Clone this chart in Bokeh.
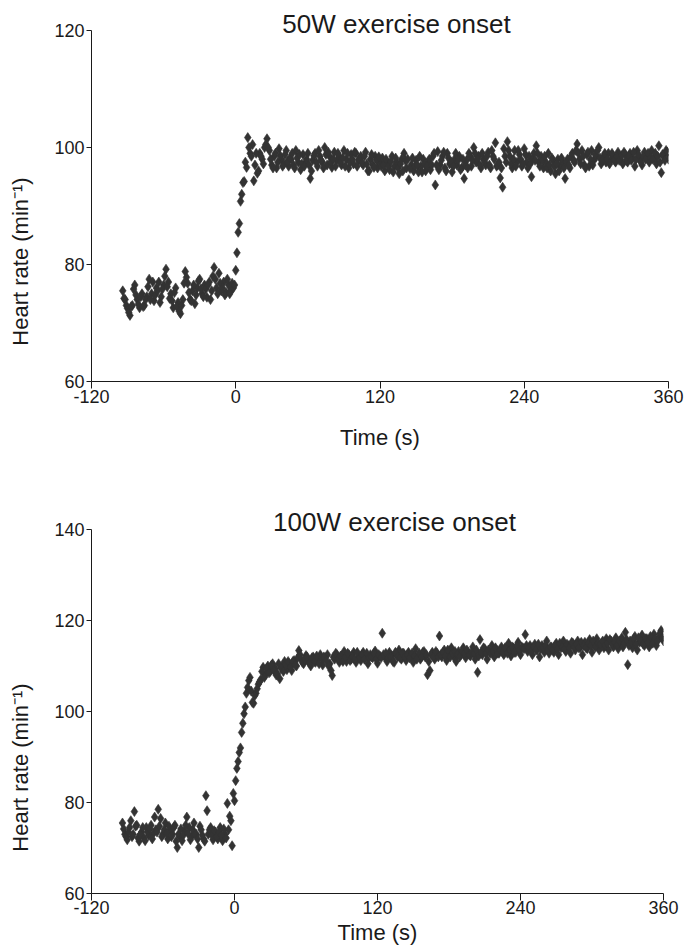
from bokeh.plotting import figure
from bokeh.layouts import column, row
from bokeh.models import Range1d, FixedTicker, Label
from bokeh.embed import file_html
from bokeh.resources import INLINE

FONT = "Liberation Sans"
TXT = "#1a1a1a"
DOT = "#333333"

# sampling grid of the series (seconds): even seconds and odd seconds
T_EVEN_START = -94
T_ODD_START = -93
T_STEP = 2

# ---- 50 W exercise onset: heart rate (min^-1) ----
hr_50w_even = [
    75.5, 74.0, 72.5, 71.3, 73.0, 76.5, 74.0, 72.6, 75.0, 73.0,
    74.5, 77.5, 75.0, 73.8, 76.0, 77.0, 74.5, 76.5, 79.2, 77.0,
    75.0, 72.6, 76.0, 73.5, 71.6, 74.0, 78.8, 76.8, 74.0, 75.5,
    73.3, 76.0, 77.5, 75.0, 76.5, 74.4, 77.0, 75.5, 79.5, 76.0,
    78.5, 75.5, 77.0, 75.2, 76.5, 75.5, 76.0, 79.0, 85.5, 90.8,
    94.0, 97.5, 101.7, 99.0, 100.5, 97.0, 95.6, 99.0, 98.0, 100.0,
    101.5, 99.5, 97.0, 98.5, 96.5, 99.8, 98.0, 97.2, 99.5, 96.8,
    98.0, 97.0, 99.5, 97.5, 96.2, 98.8, 97.5, 99.0, 94.7, 97.8,
    99.0, 96.8, 98.5, 97.5, 100.0, 97.0, 98.5, 96.6, 99.2, 97.8,
    98.5, 97.0, 99.5, 98.0, 96.5, 98.8, 97.2, 99.0, 97.8, 98.5,
    97.0, 99.2, 96.0, 98.0, 97.0, 98.5, 96.5, 97.5, 98.2, 96.0,
    97.5, 96.2, 98.5, 96.8, 97.5, 95.5, 98.0, 99.0, 96.5, 94.5,
    97.0, 96.0, 97.8, 95.8, 96.8, 98.0, 96.0, 97.5, 96.2, 98.5,
    93.6, 99.3, 97.0, 98.5, 96.5, 99.0, 97.2, 95.8, 98.0, 97.0,
    98.5, 96.5, 94.7, 97.8, 99.0, 96.8, 100.0, 97.5, 98.5, 96.5,
    98.0, 97.0, 99.2, 96.5, 98.5, 100.8, 97.0, 94.8, 93.2, 98.5,
    101.0, 98.5, 96.5, 99.5, 97.5, 98.8, 96.8, 99.8, 97.5, 98.5,
    95.0, 99.0, 100.3, 97.5, 98.5, 96.5, 97.5, 99.0, 96.0, 97.8,
    95.5, 98.0, 96.8, 97.5, 94.7, 98.0, 96.5, 99.0, 97.5, 100.6,
    98.0, 99.5, 97.0, 98.8, 96.8, 99.5, 97.8, 98.5, 100.0, 97.2,
    98.5, 97.5, 99.0, 97.8, 98.5, 97.5, 99.2, 98.0, 97.2, 98.8,
    97.5, 99.0, 98.2, 96.8, 99.5, 98.0, 97.0, 99.2, 98.5, 97.5,
    99.5, 98.2, 97.2, 100.3, 95.7, 98.5, 99.5, 98.0,
]
hr_50w_odd = [
    74.2, 73.0, 71.8, 72.8, 75.8, 74.8, 73.2, 74.5, 72.8, 74.0,
    76.2, 74.0, 77.0, 74.8, 75.5, 73.5, 75.8, 78.0, 76.2, 74.2,
    73.8, 75.2, 72.8, 72.0, 73.0, 76.8, 77.8, 75.2, 73.8, 76.5,
    74.8, 77.2, 75.8, 74.5, 75.8, 76.5, 74.0, 78.0, 77.5, 75.0,
    76.8, 76.0, 74.8, 77.5, 75.0, 76.8, 76.5, 82.0, 87.0, 92.0,
    94.2, 96.6, 100.0, 98.5, 94.3, 99.0, 96.0, 98.5, 97.2, 100.5,
    100.0, 98.0, 96.5, 99.0, 97.5, 98.6, 96.8, 98.8, 97.6, 98.2,
    99.0, 96.5, 98.2, 98.8, 97.2, 96.8, 98.0, 97.0, 96.0, 98.6,
    97.5, 99.5, 97.8, 96.5, 98.8, 99.2, 97.5, 98.0, 96.8, 99.0,
    97.5, 98.2, 96.8, 99.0, 97.5, 98.0, 99.2, 96.8, 98.0, 97.4,
    98.5, 97.2, 96.0, 98.8, 96.6, 97.8, 98.4, 96.8, 97.0, 98.0,
    96.8, 97.6, 95.8, 98.2, 96.5, 97.2, 96.0, 97.8, 98.0, 96.4,
    98.2, 96.8, 97.0, 98.5, 95.8, 97.2, 96.8, 98.0, 97.0, 99.0,
    97.0, 96.2, 97.8, 99.2, 96.0, 98.2, 97.5, 96.8, 99.0, 97.8,
    96.2, 98.0, 97.0, 96.5, 98.5, 97.8, 99.0, 98.0, 97.0, 99.0,
    97.5, 98.5, 97.0, 99.5, 98.0, 96.8, 97.5, 96.5, 99.8, 97.5,
    99.5, 97.2, 98.0, 96.8, 99.5, 98.0, 97.2, 98.8, 96.5, 97.2,
    98.0, 97.8, 99.0, 96.8, 97.8, 98.5, 96.5, 97.0, 98.2, 96.8,
    97.2, 96.0, 98.2, 96.5, 97.5, 97.0, 98.5, 97.8, 99.5, 99.0,
    97.2, 98.5, 96.5, 99.2, 98.0, 97.0, 98.8, 99.5, 98.2, 97.8,
    99.0, 98.0, 97.2, 99.0, 97.8, 98.5, 97.8, 98.6, 99.2, 97.8,
    98.5, 97.8, 99.2, 98.0, 98.8, 97.5, 98.5, 98.0, 99.0, 98.2,
    98.0, 99.0, 98.5, 97.5, 98.8, 97.8, 99.2,
]

# ---- 100 W exercise onset: heart rate (min^-1) ----
hr_100w_even = [
    75.5, 73.0, 71.8, 74.5, 72.5, 78.0, 75.0, 71.5, 73.5, 72.2,
    74.5, 72.8, 75.0, 73.2, 74.0, 78.5, 76.5, 73.0, 75.5, 72.0,
    74.0, 73.0, 75.0, 70.1, 72.5, 71.6, 73.8, 76.8, 74.5, 72.5,
    75.5, 73.0, 70.1, 74.0, 72.0, 81.5, 73.0, 74.5, 71.8, 73.5,
    72.0, 74.5, 71.6, 73.0, 79.8, 77.0, 70.5, 80.4, 87.5, 91.0,
    95.4, 99.5, 104.0, 106.8, 104.5, 101.8, 104.0, 106.0, 107.0, 109.7,
    108.0, 110.0, 108.8, 110.5, 109.5, 108.3, 107.2, 110.0, 111.0, 109.2,
    110.5, 109.0, 111.2, 110.0, 113.4, 111.5, 110.5, 112.3, 111.0, 110.0,
    112.0, 110.8, 111.5, 112.5, 110.2, 111.8, 112.5, 110.5, 107.9, 111.5,
    112.5, 110.8, 112.0, 113.2, 111.0, 112.5, 111.5, 113.0, 110.8, 112.0,
    111.2, 113.0, 112.0, 110.5, 112.5, 111.8, 113.3, 110.6, 112.2, 117.2,
    112.0, 111.0, 113.0, 112.2, 110.8, 112.5, 113.5, 111.5, 112.8, 111.2,
    113.0, 112.0, 110.8, 113.8, 112.2, 111.5, 113.0, 112.0, 108.1, 109.0,
    113.0, 111.5, 112.8, 116.6, 112.0, 113.5, 111.2, 112.8, 114.0, 112.0,
    111.0, 113.2, 112.5, 114.0, 111.8, 113.0, 112.2, 114.2, 111.5, 108.6,
    115.8, 112.5, 113.8, 111.5, 113.0, 114.5, 112.0, 113.5, 112.8, 114.2,
    112.5, 113.8, 115.0, 112.2, 114.0, 113.0, 115.2, 112.5, 114.0, 116.9,
    113.2, 114.5, 112.5, 114.8, 113.5, 112.0, 114.5, 113.0, 115.5, 112.8,
    114.2, 113.0, 115.0, 112.5, 114.0, 115.5, 113.2, 114.5, 112.8, 115.0,
    113.5, 115.5, 114.0, 112.5, 115.2, 113.8, 115.8, 113.0, 114.5, 116.0,
    113.5, 115.0, 114.0, 116.0, 113.5, 115.5, 114.2, 116.2, 113.8, 115.0,
    114.2, 117.4, 110.3, 115.5, 114.0, 116.5, 113.5, 115.2, 116.8, 114.5,
    116.0, 114.2, 115.5, 117.0, 114.5, 116.2, 117.8, 115.5,
]
hr_100w_odd = [
    74.2, 72.5, 73.5, 76.0, 73.0, 74.8, 72.2, 73.0, 74.5, 71.6,
    73.5, 74.2, 72.0, 76.8, 73.5, 74.8, 72.5, 74.0, 73.2, 74.8,
    72.5, 74.5, 71.5, 73.0, 74.2, 72.8, 75.0, 73.2, 71.8, 74.0,
    73.0, 72.0, 74.8, 72.8, 71.5, 78.2, 74.0, 72.8, 73.8, 72.5,
    73.5, 72.8, 74.2, 72.2, 74.0, 76.0, 82.0, 84.8, 89.0, 92.0,
    97.4, 101.0, 105.3, 107.5, 102.0, 103.5, 105.0, 106.5, 108.8, 107.5,
    109.5, 108.5, 110.2, 109.0, 108.0, 110.5, 109.5, 108.8, 110.2, 111.0,
    109.8, 111.0, 110.2, 111.8, 112.5, 110.8, 111.5, 112.0, 110.6, 111.8,
    111.0, 112.2, 110.5, 111.8, 112.0, 111.2, 110.0, 109.0, 112.0, 112.8,
    111.5, 112.2, 111.0, 112.0, 112.8, 111.2, 112.0, 111.5, 113.0, 111.8,
    112.5, 111.5, 112.8, 111.8, 112.0, 112.8, 111.5, 112.5, 111.8, 112.5,
    112.8, 111.8, 112.0, 111.0, 113.0, 112.0, 111.8, 112.8, 112.0, 112.5,
    111.8, 112.8, 112.2, 111.5, 112.8, 112.0, 113.2, 112.5, 111.0, 112.5,
    112.0, 113.2, 112.0, 112.5, 113.0, 112.2, 113.5, 112.0, 112.8, 113.2,
    112.5, 112.0, 113.2, 112.8, 113.5, 112.5, 113.0, 112.8, 113.5, 112.2,
    113.0, 114.0, 112.8, 113.5, 112.8, 113.2, 114.0, 112.8, 113.5, 113.0,
    114.0, 112.8, 113.5, 114.2, 113.0, 114.5, 113.5, 114.2, 113.8, 114.5,
    114.0, 113.2, 114.2, 113.5, 114.8, 113.8, 114.0, 114.5, 113.5, 114.2,
    113.5, 114.5, 113.8, 115.0, 114.2, 113.8, 114.8, 114.0, 115.2, 114.2,
    114.8, 114.0, 115.2, 114.5, 114.0, 115.0, 114.5, 115.5, 114.2, 115.0,
    114.8, 115.5, 114.5, 115.0, 115.8, 114.8, 115.2, 114.6, 115.5, 116.2,
    115.0, 115.8, 114.5, 115.2, 116.0, 114.8, 116.2, 115.5, 114.8, 116.0,
    115.2, 116.5, 115.0, 116.0, 115.5, 117.2, 116.2,
]

x_ticks = [-120, 0, 120, 240, 360]
x_range = (-120, 360)
y_ticks_50w = [60, 80, 100, 120]
y_ticks_100w = [60, 80, 100, 120, 140]
titles = ["50W exercise onset", "100W exercise onset"]
x_title = "Time (s)"
y_title = "Heart rate (min\u207b\u00b9)"

STRIP_W = 50      # width of the strip that carries the y-axis title
AXIS_W = 41       # room for the y tick labels


def grid(start, n):
    return [start + T_STEP * i for i in range(n)]


def panel(title, hr_even, hr_odd, y_ticks, fw, axis_px, pad_px, top, bottom,
          tick_standoff, label_standoff, title_x, title_rise):
    # the frame extends pad_px above the top tick so that the title fits in it;
    # the axis line itself is bounded to the tick range
    y0, y1 = y_ticks[0], y_ticks[-1]
    y_end = y1 + pad_px * (y1 - y0) / axis_px
    fh = axis_px + pad_px
    right = 684 - STRIP_W - AXIS_W - fw
    p = figure(frame_width=fw, frame_height=fh,
               x_range=Range1d(*x_range), y_range=Range1d(y0, y_end),
               output_backend="svg", toolbar_location=None,
               min_border_left=AXIS_W, min_border_right=right,
               min_border_top=top, min_border_bottom=bottom)
    p.outline_line_color = None
    p.grid.visible = False

    for xs, ys in ((grid(T_EVEN_START, len(hr_even)), hr_even),
                   (grid(T_ODD_START, len(hr_odd)), hr_odd)):
        p.scatter(xs, ys, marker="diamond", size=10, fill_color=DOT,
                  line_color=DOT, line_width=0.6)

    xa = p.xaxis[0]
    xa.ticker = FixedTicker(ticks=x_ticks)
    xa.major_label_overrides = {-120: "-120"}
    xa.axis_label = x_title
    xa.axis_label_text_font = FONT
    xa.axis_label_text_font_size = "22px"
    xa.axis_label_text_font_style = "normal"
    xa.axis_label_text_color = TXT
    xa.axis_label_standoff = label_standoff
    xa.major_label_standoff = tick_standoff
    xa.major_tick_out = 7

    ya = p.yaxis[0]
    ya.ticker = FixedTicker(ticks=y_ticks)
    ya.bounds = (y0, y1)
    ya.major_label_standoff = 2
    ya.major_tick_out = 5

    for ax in (xa, ya):
        ax.major_label_text_font = FONT
        ax.major_label_text_font_size = "18px"
        ax.major_label_text_color = TXT
        ax.major_tick_in = 0
        ax.minor_tick_in = 0
        ax.minor_tick_out = 0
        ax.axis_line_color = TXT
        ax.major_tick_line_color = TXT

    p.add_layout(Label(x=title_x, y=axis_px + title_rise, x_units="screen",
                       y_units="screen", text=title, text_align="center",
                       text_baseline="alphabetic", text_font=FONT,
                       text_font_size="26px", text_color=TXT))
    return p


def y_label_strip(frame_h, top, bottom, center_from_bottom):
    s = figure(frame_width=STRIP_W, frame_height=frame_h, output_backend="svg",
               toolbar_location=None, x_axis_type=None, y_axis_type=None,
               x_range=Range1d(0, 1), y_range=Range1d(0, 1),
               min_border_left=0, min_border_right=0,
               min_border_top=top, min_border_bottom=bottom)
    s.outline_line_color = None
    s.grid.visible = False
    s.add_layout(Label(x=20, y=center_from_bottom, x_units="screen", y_units="screen",
                       text=y_title, angle=1.5707963, text_align="center",
                       text_baseline="middle", text_font=FONT,
                       text_font_size="22px", text_color=TXT))
    return s


p1 = panel(titles[0], hr_50w_even, hr_50w_odd, y_ticks_50w,
           577, 351, 30, 0, 78, 1, 19, 305, 7)
p2 = panel(titles[1], hr_100w_even, hr_100w_odd, y_ticks_100w,
           572, 364, 38, 32, 58, 0, 3, 303, 8)

s1 = y_label_strip(381, 0, 78, 120)
s2 = y_label_strip(402, 32, 58, 126)

layout = column(row(s1, p1, spacing=0), row(s2, p2, spacing=0), spacing=0)
open("out.html", "w").write(file_html(layout, INLINE))
